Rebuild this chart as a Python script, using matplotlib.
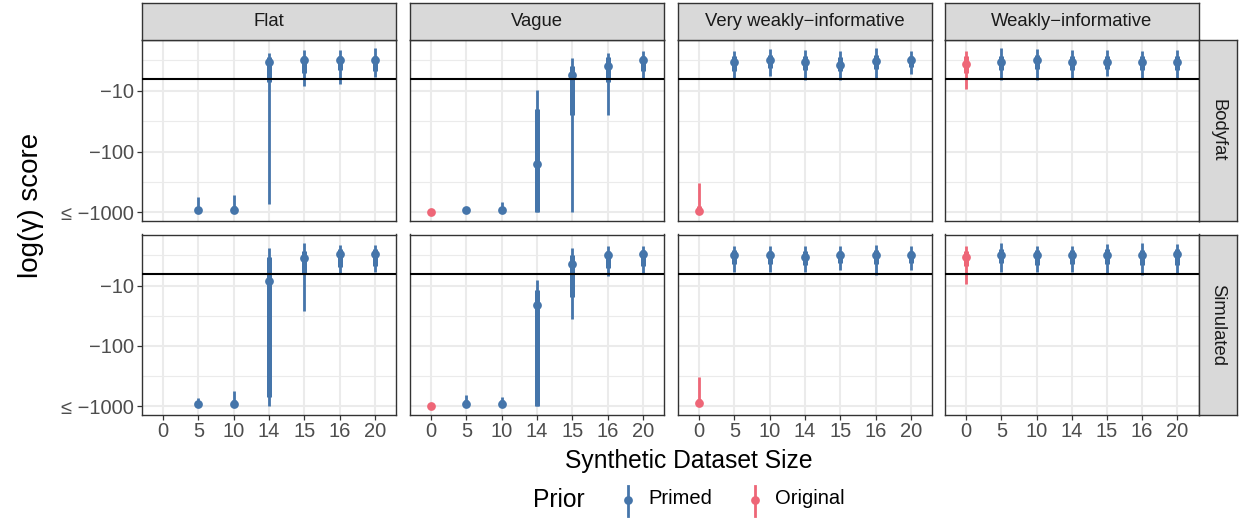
import matplotlib
matplotlib.use('Agg')
import matplotlib.pyplot as plt
from matplotlib.lines import Line2D

plt.rcParams['font.family'] = ['Liberation Sans', 'DejaVu Sans']

# categories
sizes = ['0', '5', '10', '14', '15', '16', '20']
priors = ['Flat', 'Vague', 'Very weakly\u2212informative', 'Weakly\u2212informative']
datasets = ['Bodyfat', 'Simulated']
colors = {'Primed': '#4575AA', 'Original': '#EE6677'}

# values are log10(-score), 3.0 means <= -1000
# (size, prior type, median, 66% low, 66% high, 95% low, 95% high)
flat_bodyfat = [
    ('5', 'Primed', 2.97, 2.92, 3.0, 2.75, 3.0),
    ('10', 'Primed', 2.97, 2.90, 3.0, 2.71, 3.0),
    ('14', 'Primed', 0.52, 0.45, 0.86, 0.37, 2.86),
    ('15', 'Primed', 0.50, 0.42, 0.71, 0.33, 0.92),
    ('16', 'Primed', 0.50, 0.42, 0.66, 0.33, 0.89),
    ('20', 'Primed', 0.50, 0.42, 0.68, 0.30, 0.77),
]
vague_bodyfat = [
    ('0', 'Original', 3.0, 3.0, 3.0, 3.0, 3.0),
    ('5', 'Primed', 2.97, 2.95, 3.0, 2.93, 3.0),
    ('10', 'Primed', 2.97, 2.93, 3.0, 2.83, 3.0),
    ('14', 'Primed', 2.21, 1.30, 3.0, 0.99, 3.0),
    ('15', 'Primed', 0.74, 0.59, 1.39, 0.46, 3.0),
    ('16', 'Primed', 0.59, 0.45, 0.85, 0.37, 1.39),
    ('20', 'Primed', 0.50, 0.42, 0.67, 0.34, 0.81),
]
vweak_bodyfat = [
    ('0', 'Original', 2.98, 2.90, 3.0, 2.51, 3.0),
    ('5', 'Primed', 0.53, 0.43, 0.67, 0.34, 0.79),
    ('10', 'Primed', 0.50, 0.41, 0.63, 0.31, 0.76),
    ('14', 'Primed', 0.53, 0.43, 0.66, 0.33, 0.82),
    ('15', 'Primed', 0.57, 0.45, 0.68, 0.35, 0.82),
    ('16', 'Primed', 0.51, 0.41, 0.64, 0.30, 0.79),
    ('20', 'Primed', 0.50, 0.42, 0.60, 0.34, 0.73),
]
weak_bodyfat = [
    ('0', 'Original', 0.56, 0.43, 0.70, 0.34, 0.97),
    ('5', 'Primed', 0.53, 0.42, 0.66, 0.29, 0.82),
    ('10', 'Primed', 0.50, 0.41, 0.64, 0.31, 0.82),
    ('14', 'Primed', 0.53, 0.43, 0.65, 0.33, 0.80),
    ('15', 'Primed', 0.53, 0.43, 0.64, 0.33, 0.75),
    ('16', 'Primed', 0.53, 0.43, 0.65, 0.34, 0.79),
    ('20', 'Primed', 0.53, 0.43, 0.65, 0.33, 0.79),
]
flat_simulated = [
    ('5', 'Primed', 2.96, 2.92, 3.0, 2.86, 3.0),
    ('10', 'Primed', 2.96, 2.90, 3.0, 2.74, 3.0),
    ('14', 'Primed', 0.92, 0.52, 2.85, 0.37, 3.0),
    ('15', 'Primed', 0.55, 0.42, 0.81, 0.30, 1.42),
    ('16', 'Primed', 0.48, 0.40, 0.70, 0.33, 0.81),
    ('20', 'Primed', 0.48, 0.40, 0.67, 0.33, 0.78),
]
vague_simulated = [
    ('0', 'Original', 3.0, 3.0, 3.0, 3.0, 3.0),
    ('5', 'Primed', 2.96, 2.90, 3.0, 2.82, 3.0),
    ('10', 'Primed', 2.96, 2.90, 3.0, 2.84, 3.0),
    ('14', 'Primed', 1.33, 1.07, 3.0, 0.91, 3.0),
    ('15', 'Primed', 0.64, 0.49, 1.19, 0.38, 1.56),
    ('16', 'Primed', 0.50, 0.42, 0.71, 0.34, 0.85),
    ('20', 'Primed', 0.48, 0.41, 0.67, 0.34, 0.81),
]
vweak_simulated = [
    ('0', 'Original', 2.95, 2.88, 3.0, 2.51, 3.0),
    ('5', 'Primed', 0.50, 0.41, 0.64, 0.34, 0.77),
    ('10', 'Primed', 0.50, 0.42, 0.65, 0.35, 0.78),
    ('14', 'Primed', 0.53, 0.42, 0.66, 0.34, 0.78),
    ('15', 'Primed', 0.50, 0.42, 0.63, 0.34, 0.74),
    ('16', 'Primed', 0.50, 0.41, 0.65, 0.33, 0.82),
    ('20', 'Primed', 0.50, 0.42, 0.63, 0.35, 0.75),
]
weak_simulated = [
    ('0', 'Original', 0.53, 0.43, 0.67, 0.35, 0.97),
    ('5', 'Primed', 0.49, 0.40, 0.62, 0.30, 0.77),
    ('10', 'Primed', 0.50, 0.41, 0.66, 0.34, 0.78),
    ('14', 'Primed', 0.50, 0.41, 0.64, 0.34, 0.78),
    ('15', 'Primed', 0.49, 0.40, 0.64, 0.32, 0.80),
    ('16', 'Primed', 0.50, 0.41, 0.66, 0.30, 0.82),
    ('20', 'Primed', 0.48, 0.40, 0.66, 0.32, 0.81),
]
panels = [
    [flat_bodyfat, vague_bodyfat, vweak_bodyfat, weak_bodyfat],
    [flat_simulated, vague_simulated, vweak_simulated, weak_simulated],
]
ref_line = 0.81          # horizontal reference, log10(-score)
y_ticks = [1, 2, 3]
y_ticklabels = ['\u221210', '\u2212100', '\u2264 \u22121000']

W, H = 1239, 521
fig = plt.figure(figsize=(W / 100, H / 100), dpi=100)


def rect(x0, y0, x1, y1):
    return [x0 / W, 1 - y1 / H, (x1 - x0) / W, (y1 - y0) / H]


def strip_axes(x0, y0, x1, y1):
    sax = fig.add_axes(rect(x0, y0, x1, y1))
    sax.set_xticks([])
    sax.set_yticks([])
    sax.set_facecolor('#D9D9D9')
    for s in sax.spines.values():
        s.set_color(edge)
        s.set_linewidth(1.0)
    return sax


cols_x = [(142, 396), (410, 664), (678, 932), (945, 1198.5)]
rows_y = [(39.5, 220.5), (234.5, 414.5)]
strip_top = (2.5, 39.5)
strip_right = (1198.5, 1237)
edge = '#333333'
grid = '#EBEBEB'

all_lo = min(r[5] for row in panels for p in row for r in p)
all_hi = max(r[6] for row in panels for p in row for r in p)
pad = 0.05 * (all_hi - all_lo)
ylim = (all_hi + pad, all_lo - pad)

for i, (y0, y1) in enumerate(rows_y):
    for j, (x0, x1) in enumerate(cols_x):
        ax = fig.add_axes(rect(x0, y0, x1, y1))
        ax.set_xlim(-0.6, len(sizes) - 0.4)
        ax.set_ylim(*ylim)
        ax.set_xticks(range(len(sizes)))
        ax.set_yticks(y_ticks)
        ax.set_yticks([0.5, 1.5, 2.5], minor=True)
        ax.grid(True, which='major', color=grid, lw=1.5, zorder=0)
        ax.grid(True, which='minor', axis='y', color=grid, lw=0.8, zorder=0)
        ax.set_axisbelow(True)
        for s in ax.spines.values():
            s.set_color(edge)
            s.set_linewidth(1.0)
        ax.tick_params(which='major', length=3.5, width=0.9, color=edge,
                       labelsize=14.5, labelcolor='#4D4D4D', pad=2)
        ax.tick_params(which='minor', length=0)
        if i == len(rows_y) - 1:
            ax.set_xticklabels(sizes)
        else:
            ax.set_xticklabels([])
            ax.tick_params(axis='x', length=0)
        if j == 0:
            ax.set_yticklabels(y_ticklabels)
        else:
            ax.set_yticklabels([])
            ax.tick_params(axis='y', length=0)

        for size, kind, med, q66lo, q66hi, q95lo, q95hi in panels[i][j]:
            x = sizes.index(size)
            c = colors[kind]
            ax.plot([x, x], [q95lo, q95hi], color=c, lw=2.0,
                    solid_capstyle='butt', zorder=2)
            ax.plot([x, x], [q66lo, q66hi], color=c, lw=3.6,
                    solid_capstyle='butt', zorder=2)
            ax.plot([x], [med], 'o', color=c, ms=6.3, mew=0, zorder=3)
        ax.axhline(ref_line, color='black', lw=1.5, zorder=4)

        if i == 0:
            sax = strip_axes(x0, strip_top[0], x1, strip_top[1])
            sax.text(0.5, 0.48, priors[j], ha='center', va='center',
                     fontsize=13.3, color='#1A1A1A', transform=sax.transAxes)
    rax = strip_axes(strip_right[0], y0, strip_right[1], y1)
    rax.text(0.5, 0.5, datasets[i], ha='center', va='center', rotation=-90,
             fontsize=13.3, color='#1A1A1A', transform=rax.transAxes)

fig.text(31 / W, 1 - 205 / H, 'log(\u03b3) score', rotation=90, ha='center',
         va='center', fontsize=20)
fig.text(689 / W, 1 - 461 / H, 'Synthetic Dataset Size', ha='center',
         va='center', fontsize=17.7)

# legend
fig.text(533 / W, 1 - 500 / H, 'Prior', ha='left', va='center', fontsize=17.7)
for kind, kx, tx in [('Primed', 628, 648), ('Original', 755, 775)]:
    c = colors[kind]
    fig.add_artist(Line2D([kx / W, kx / W], [1 - 486 / H, 1 - 516 / H],
                          color=c, lw=2.0, transform=fig.transFigure))
    fig.add_artist(Line2D([kx / W], [1 - 500 / H], marker='o', ms=6.3, mew=0,
                          color=c, transform=fig.transFigure))
    fig.text(tx / W, 1 - 499 / H, kind, ha='left', va='center', fontsize=14.5)

fig.savefig('out.png', dpi=100)
